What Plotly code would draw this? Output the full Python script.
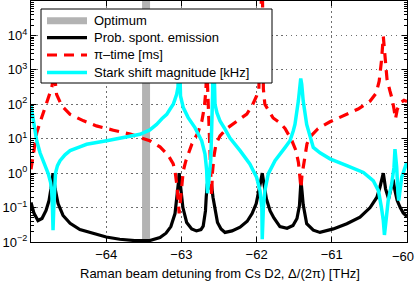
import plotly.graph_objects as go

# ---------------- data ----------------
optimum_x = -63.47

spont_x = [-65.0, -64.96, -64.907, -64.854, -64.80, -64.76, -64.734, -64.707, -64.68, -64.64,
           -64.574, -64.48, -64.35, -64.15, -64.0, -63.82, -63.62, -63.42, -63.285, -63.205,
           -63.14, -63.085, -63.06, -63.04, -63.03, -63.01, -62.98, -62.93, -62.863, -62.80,
           -62.74, -62.71, -62.68, -62.67, -62.655, -62.635, -62.60, -62.58, -62.553, -62.52,
           -62.473, -62.42, -62.327, -62.22, -62.125, -62.06, -62.005, -61.965, -61.94, -61.925,
           -61.90, -61.87, -61.82, -61.77, -61.69, -61.595, -61.516, -61.463, -61.43, -61.417,
           -61.41, -61.397, -61.38, -61.334, -61.246, -61.157, -60.98, -60.80, -60.625, -60.49,
           -60.40, -60.36, -60.33, -60.315, -60.30, -60.285, -60.245, -60.21, -60.185, -60.16,
           -60.13, -60.09, -60.05, -60.0]
spont_y = [0.14, 0.068, 0.042, 0.048, 0.083, 0.16, 0.36, 1.0, 0.36, 0.13,
           0.059, 0.035, 0.023, 0.017, 0.014, 0.012, 0.011, 0.011, 0.0135, 0.018,
           0.028, 0.067, 0.18, 0.52, 1.0, 0.45, 0.1, 0.037, 0.024, 0.021,
           0.023, 0.029, 0.08, 0.2, 0.5, 0.35, 0.46, 0.2, 0.08, 0.037,
           0.024, 0.019, 0.021, 0.027, 0.04, 0.067, 0.13, 0.31, 0.66, 1.0,
           0.52, 0.18, 0.08, 0.05, 0.028, 0.025, 0.03, 0.048, 0.115, 0.31,
           0.6, 0.31, 0.12, 0.034, 0.022, 0.019, 0.024, 0.034, 0.053, 0.10,
           0.2, 0.39, 0.7, 1.0, 0.6, 0.35, 0.18, 0.35, 0.65, 0.31,
           0.16, 0.1, 0.07, 0.055]

pitime_x = [-65.0, -64.97, -64.924, -64.858, -64.79, -64.725, -64.69, -64.66, -64.59, -64.48,
            -64.30, -64.13, -63.905, -63.68, -63.42, -63.285, -63.18, -63.11, -63.085, -63.06,
            -63.03, -63.0, -62.975, -62.94, -62.86, -62.78, -62.727, -62.693, -62.673, -62.665,
            -62.643, -62.63, -62.617, -62.608, -62.598, -62.588, -62.566, -62.54, -62.487, -62.40,
            -62.265, -62.13, -62.06, -62.0, -61.97, -61.925, -61.91, -61.89, -61.835, -61.78,
            -61.69, -61.62, -61.53, -61.476, -61.443, -61.423, -61.41, -61.397, -61.37, -61.33,
            -61.277, -61.184, -61.024, -60.825, -60.65, -60.49, -60.41, -60.37, -60.34, -60.315,
            -60.29, -60.266, -60.226, -60.2, -60.173, -60.153, -60.13, -60.09, -60.04, -60.0]
pitime_y = [1.3, 3.6, 15, 41, 124, 300, 800, 195, 89, 51,
            33, 23.6, 17.7, 13.6, 8.7, 5.8, 3.4, 1.9, 1.17, 0.45,
            0.068, 0.45, 1.17, 2.3, 7.1, 15, 33, 90, 280, 2000,
            125, 23, 4.5, 1.0, 0.22, 1.0, 3.2, 7, 12, 19.6,
            33, 52, 90, 174, 280, 1e6, 280, 100, 63, 40,
            29, 19.6, 8.7, 4.5, 2.0, 0.85, 0.37, 0.85, 2.3, 7.1,
            12, 19.6, 31, 49, 73, 124, 210, 470, 1800, 9300,
            1800, 540, 240, 150, 73, 38, 70, 110, 130, 120]

stark_x = [-65.0, -64.967, -64.924, -64.88, -64.836, -64.80, -64.77, -64.74, -64.725, -64.714,
           -64.707, -64.698, -64.688, -64.674, -64.648, -64.614, -64.548, -64.48, -64.35, -64.26,
           -63.994, -63.817, -63.68, -63.55, -63.42, -63.33, -63.26, -63.195, -63.15, -63.108,
           -63.063, -63.045, -63.03, -63.012, -62.975, -62.91, -62.82, -62.73, -62.686, -62.664,
           -62.653, -62.633, -62.61, -62.597, -62.585, -62.576, -62.564, -62.553, -62.527, -62.487,
           -62.42, -62.354, -62.22, -62.09, -62.0, -61.955, -61.93, -61.925, -61.91, -61.89,
           -61.845, -61.755, -61.62, -61.556, -61.512, -61.49, -61.445, -61.423, -61.413, -61.40,
           -61.38, -61.334, -61.27, -61.246, -61.157, -61.024, -60.80, -60.58, -60.45, -60.38,
           -60.34, -60.315, -60.30, -60.28, -60.25, -60.204, -60.173, -60.16, -60.137, -60.12,
           -60.11, -60.07, -60.005]
stark_y = [90, 29, 8.7, 3.9, 2.3, 1.54, 0.95, 0.54, 0.31, 0.087,
           0.022, 0.087, 0.38, 1.0, 1.65, 2.3, 3.4, 4.5, 5.8, 6.9,
           8.7, 10.2, 12, 13.4, 18, 26, 38, 51, 73, 100,
           195, 316, 1e4, 174, 80, 41, 21, 8.7, 3.6, 1.2,
           0.26, 0.6, 2.3, 21, 195, 1e4, 240, 100, 56, 33,
           19, 10.5, 4.5, 1.85, 0.76, 0.31, 0.1, 0.012, 0.1, 0.31,
           0.95, 2.3, 5.6, 8.7, 17, 26, 124, 380, 560, 380,
           124, 26, 8.7, 5.6, 3.9, 2.6, 1.65, 1.05, 0.61, 0.31,
           0.1, 0.042, 0.016, 0.042, 0.16, 0.49, 1.47, 5.0, 1.47, 0.25,
           0.16, 0.76, 2.0]

series_names = ["Optimum", "Prob. spont. emission", "\u03c0\u2013time [ms]",
                "Stark shift magnitude [kHz]"]
x_title = "Raman beam detuning from Cs D2, \u0394/(2\u03c0) [THz]"
x_ticks = [-64, -63, -62, -61, -60]
x_ticklabels = ["\u221264", "\u221263", "\u221262", "\u221261", ""]
x_last_label = "\u221260"
y_exponents = [-2, -1, 0, 1, 2, 3, 4]

# ---------------- styles ----------------
FONT = "Liberation Sans, Arial, Helvetica, sans-serif"
GRAY, BLACK, RED, CYAN = "#b3b3b3", "black", "#ff0000", "#00ffff"
DASH = "10px,7px"
GRID = dict(showgrid=True, gridcolor="#6e6e6e", griddash="1.5px,3.5px", gridwidth=1)
styles = [dict(color=GRAY, width=7), dict(color=BLACK, width=3.2),
          dict(color=RED, width=3.2, dash=DASH), dict(color=CYAN, width=3.5)]

fig = go.Figure()
fig.add_trace(go.Scatter(x=[optimum_x, optimum_x], y=[1e-3, 1e6], mode="lines",
                         line=dict(color=GRAY, width=8), name=series_names[0], showlegend=False))
fig.add_trace(go.Scatter(x=spont_x, y=spont_y, mode="lines", line=styles[1],
                         name=series_names[1], showlegend=False))
fig.add_trace(go.Scatter(x=pitime_x, y=pitime_y, mode="lines", line=styles[2],
                         name=series_names[2], showlegend=False))
fig.add_trace(go.Scatter(x=stark_x, y=stark_y, mode="lines", line=styles[3],
                         name=series_names[3], showlegend=False))

# ---------------- legend box (drawn, MATLAB style) ----------------
PLOT_L, PLOT_R, PLOT_T, PLOT_B = 31, 407, 1, 242


def px_x(p):
    return (p - PLOT_L) / (PLOT_R - PLOT_L)


def px_y(p):
    return (PLOT_B - p) / (PLOT_B - PLOT_T)


shapes = [dict(type="rect", xref="paper", yref="paper", x0=px_x(41), x1=px_x(272),
               y0=px_y(83), y1=px_y(9), fillcolor="white",
               line=dict(color="black", width=1), layer="above")]
annotations = []
entry_rows = [20.7, 37.7, 55.0, 72.5]
for name, st, row in zip(series_names, styles, entry_rows):
    shapes.append(dict(type="line", xref="paper", yref="paper", x0=px_x(47), x1=px_x(87),
                       y0=px_y(row), y1=px_y(row), line=st, layer="above"))
    annotations.append(dict(xref="paper", yref="paper", x=px_x(92), y=px_y(row),
                            xanchor="left", yanchor="middle", text=name, showarrow=False,
                            font=dict(family=FONT, size=13, color="black")))

# last x tick label kept inside the page (as in the reference) and the axis title
annotations.append(dict(xref="paper", yref="paper", x=px_x(402.5), y=px_y(256.5),
                        xanchor="center", yanchor="middle", text=x_last_label, showarrow=False,
                        font=dict(family=FONT, size=13, color="black")))
annotations.append(dict(xref="paper", yref="paper", x=px_x(220), y=px_y(273),
                        xanchor="center", yanchor="middle", text=x_title, showarrow=False,
                        font=dict(family=FONT, size=13, color="black")))

y_tickvals = [10.0 ** e for e in y_exponents]
y_ticktext = ["10<sup>" + str(e).replace("-", "\u2212") + "</sup>" for e in y_exponents]
minor_vals = [m * 10.0 ** e for e in range(-2, 5) for m in range(2, 10)]

fig.update_layout(
    width=415, height=282,
    margin=dict(l=PLOT_L, r=415 - PLOT_R, t=PLOT_T, b=282 - PLOT_B),
    plot_bgcolor="white", paper_bgcolor="white",
    font=dict(family=FONT, size=13, color="black"),
    showlegend=False,
    shapes=shapes, annotations=annotations,
)
fig.update_xaxes(range=[-65, -60], tickmode="array", tickvals=x_ticks, ticktext=x_ticklabels,
                 ticks="inside", ticklen=5, tickcolor="black", showline=True, linecolor="black",
                 linewidth=1, mirror="ticks", zeroline=False, **GRID)
fig.update_yaxes(type="log", range=[-2, 5], tickmode="array", tickvals=y_tickvals,
                 ticktext=y_ticktext, ticks="inside", ticklen=5, tickcolor="black",
                 showline=True, linecolor="black", linewidth=1, mirror="ticks", zeroline=False,
                 minor=dict(tickmode="array", tickvals=minor_vals, ticks="inside", ticklen=3,
                            tickcolor="black", showgrid=False),
                 **GRID)

# remove the browser's default 8px page margin so the 415x282 figure fills the window
fig.write_html("out.html", config={"displayModeBar": False},
               post_script="document.body.style.margin='0px';document.body.style.overflow='hidden';")
